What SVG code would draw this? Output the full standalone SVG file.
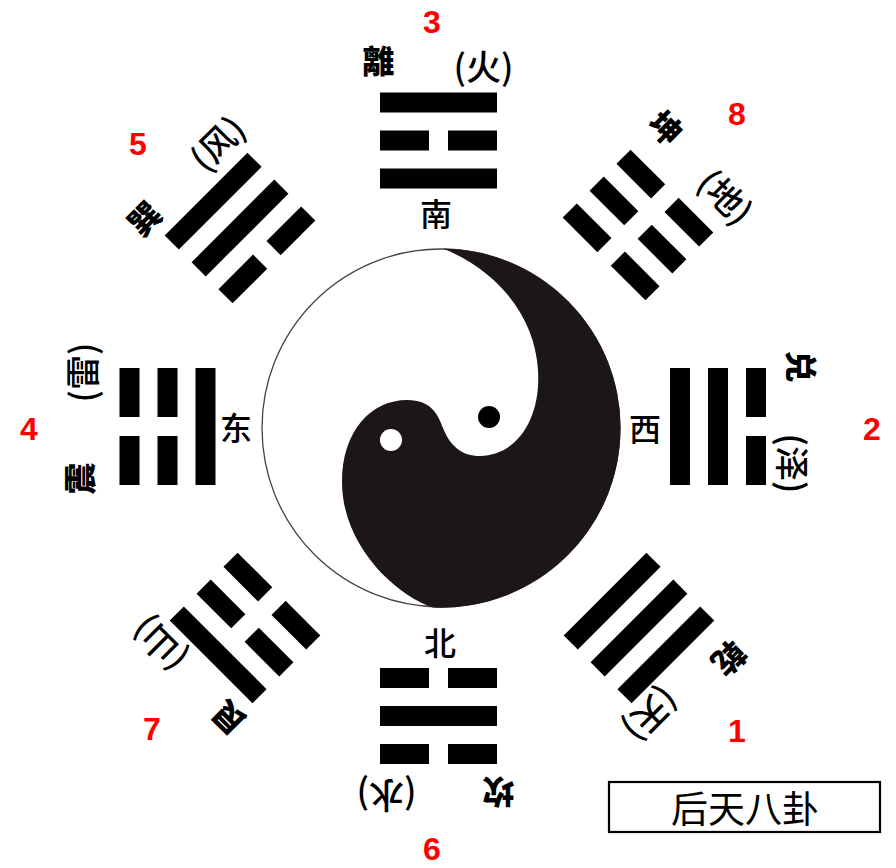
<svg xmlns="http://www.w3.org/2000/svg" width="896" height="868" viewBox="0 0 896 868">
<style>
.bar{fill:#000}
.cjk{font-family:"Noto Sans CJK SC","Noto Sans CJK TC",sans-serif;text-anchor:middle;dominant-baseline:central;fill:#000}
.name{font-size:32px;font-weight:900}
.elem{font-size:35px;font-weight:500}
.dir{font-size:32px;font-weight:500}
.num{font-family:"Liberation Sans",Arial,sans-serif;font-weight:700;font-size:32px;fill:#f00;text-anchor:middle}
.title{font-size:37px;font-weight:400}
</style>
<defs>
<rect id="yang" class="bar" x="-58.5" y="0" width="117" height="20"/>
<g id="yin"><rect class="bar" x="-58.5" y="0" width="49" height="20"/><rect class="bar" x="9.5" y="0" width="49" height="20"/></g>
</defs>
<rect width="896" height="868" fill="#fff"/>

<g id="taiji">
<circle cx="441" cy="428" r="179" fill="#fff" stroke="#444" stroke-width="1.3"/>
<path fill="#1c1716" d="M 443 248.5 A 179.5 179.5 0 0 1 620.5 428 A 179.5 179.5 0 0 1 433 607.5 C 395 595 342 545 342 482 C 342 430 372 400 407 400 C 432 400 438 415 443 428 C 450 446 462 456 480 456 C 518 455 541 418 538 370 C 535 318 500 272 443 248.5 Z"/>
<circle cx="489" cy="417" r="11" fill="#000"/>
<circle cx="391" cy="440" r="11" fill="#fff"/>
</g>

<g id="li" transform="translate(438.5,140.5)">
<use href="#yang" y="-48"/><use href="#yin" y="-10"/><use href="#yang" y="28"/>
<text class="cjk name" x="-60" y="-82">離</text>
<text class="cjk elem" x="45" y="-76">(火)</text>
</g>
<g id="kun" transform="translate(638,225) rotate(45)">
<use href="#yin" y="-48"/><use href="#yin" y="-10"/><use href="#yin" y="28"/>
<text class="cjk name" x="-49" y="-90">坤</text>
<text class="cjk elem" x="42" y="-84">(地)</text>
</g>
<g id="dui" transform="translate(718,426.5) rotate(90)">
<use href="#yin" y="-48"/><use href="#yang" y="-10"/><use href="#yang" y="28"/>
<text class="cjk name" x="-60" y="-85">兑</text>
<text class="cjk elem" x="37" y="-76">(泽)</text>
</g>
<g id="qian" transform="translate(639,628) rotate(135)">
<use href="#yang" y="-48"/><use href="#yang" y="-10"/><use href="#yang" y="28"/>
<text class="cjk name" x="-42" y="-87">乾</text>
<text class="cjk elem" x="53" y="-72">(天)</text>
</g>
<g id="kan" transform="translate(438.5,716) rotate(180)">
<use href="#yin" y="-48"/><use href="#yang" y="-10"/><use href="#yin" y="28"/>
<text class="cjk name" x="-60" y="-78">坎</text>
<text class="cjk elem" x="52" y="-81">(水)</text>
</g>
<g id="gen" transform="translate(245,628) rotate(225)">
<use href="#yang" y="-48"/><use href="#yin" y="-10"/><use href="#yin" y="28"/>
<text class="cjk name" x="-52" y="-77">艮</text>
<text class="cjk elem" x="49" y="-74">(山)</text>
</g>
<g id="zhen" transform="translate(167.5,426.5) rotate(270)">
<use href="#yin" y="-48"/><use href="#yin" y="-10"/><use href="#yang" y="28"/>
<text class="cjk name" x="-52" y="-90">震</text>
<text class="cjk elem" x="54" y="-87">(雷)</text>
</g>
<g id="xun" transform="translate(240,228) rotate(315)">
<use href="#yang" y="-48"/><use href="#yang" y="-10"/><use href="#yin" y="28"/>
<text class="cjk name" x="-61" y="-76">巽</text>
<text class="cjk elem" x="44" y="-78">(风)</text>
</g>

<g id="directions">
<text class="cjk dir" x="436" y="212">南</text>
<text class="cjk dir" x="645" y="427">西</text>
<text class="cjk dir" x="440" y="641">北</text>
<text class="cjk dir" x="236" y="426">东</text>
</g>

<g id="numbers">
<text class="num" x="432" y="33">3</text>
<text class="num" x="737" y="125">8</text>
<text class="num" x="872" y="440">2</text>
<text class="num" x="737" y="742">1</text>
<text class="num" x="432" y="860">6</text>
<text class="num" x="152" y="740">7</text>
<text class="num" x="29" y="440">4</text>
<text class="num" x="138" y="155">5</text>
</g>

<g id="title">
<rect x="609" y="782" width="271" height="50" fill="#fff" stroke="#000" stroke-width="2.2"/>
<text class="cjk title" x="745" y="807">后天八卦</text>
</g>
</svg>
